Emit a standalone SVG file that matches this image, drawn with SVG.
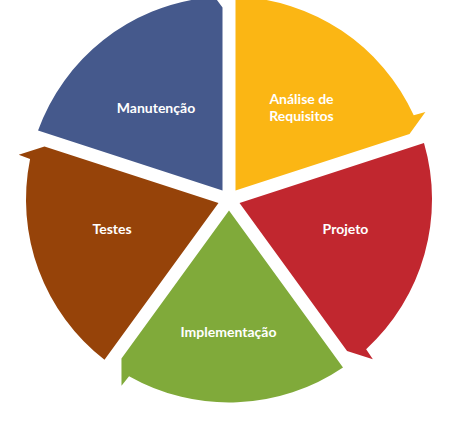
<svg xmlns="http://www.w3.org/2000/svg" width="466" height="429" viewBox="0 0 466 429">
<style>
.lbl{font-family:Lato,"Open Sans","Liberation Sans",sans-serif;font-weight:bold;font-size:14px;fill:#ffffff;text-anchor:middle}
</style>
<rect width="466" height="429" fill="#ffffff"/>
<g id="analise">
<path fill="#FBB614" d="M235.5,190.55 L235.5,-3.4 A203,203 0 0 1 413.73,115.32 L425.41,112.05 L409.5,134.02 Z"/>
<text class="lbl" x="301.5" y="104">Análise de</text>
<text class="lbl" x="301.5" y="121">Requisitos</text>
</g>
<g id="projeto">
<path fill="#C1272F" d="M239.52,202.92 L423.99,142.98 A203,203 0 0 1 366.15,349.17 L372.86,359.27 L347.06,350.93 Z"/>
<text class="lbl" x="345.5" y="234">Projeto</text>
</g>
<g id="implementacao">
<path fill="#80AA3A" d="M229,210.56 L343,367.47 A203,203 0 0 1 129.04,376.19 L121.5,385.69 L121.46,358.57 Z"/>
<text class="lbl" x="228.5" y="337">Implementação</text>
</g>
<g id="testes">
<path fill="#964309" d="M218.48,202.92 L104.48,359.83 A203,203 0 0 1 30.08,159.02 L18.71,154.8 L44.48,146.38 Z"/>
<text class="lbl" x="112" y="234">Testes</text>
</g>
<g id="manutencao">
<path fill="#45598C" d="M222.5,190.55 L38.03,130.62 A203,203 0 0 1 206.02,-2.2 L206.53,-14.32 L222.5,7.6 Z"/>
<text class="lbl" x="156" y="113">Manutenção</text>
</g>
</svg>
